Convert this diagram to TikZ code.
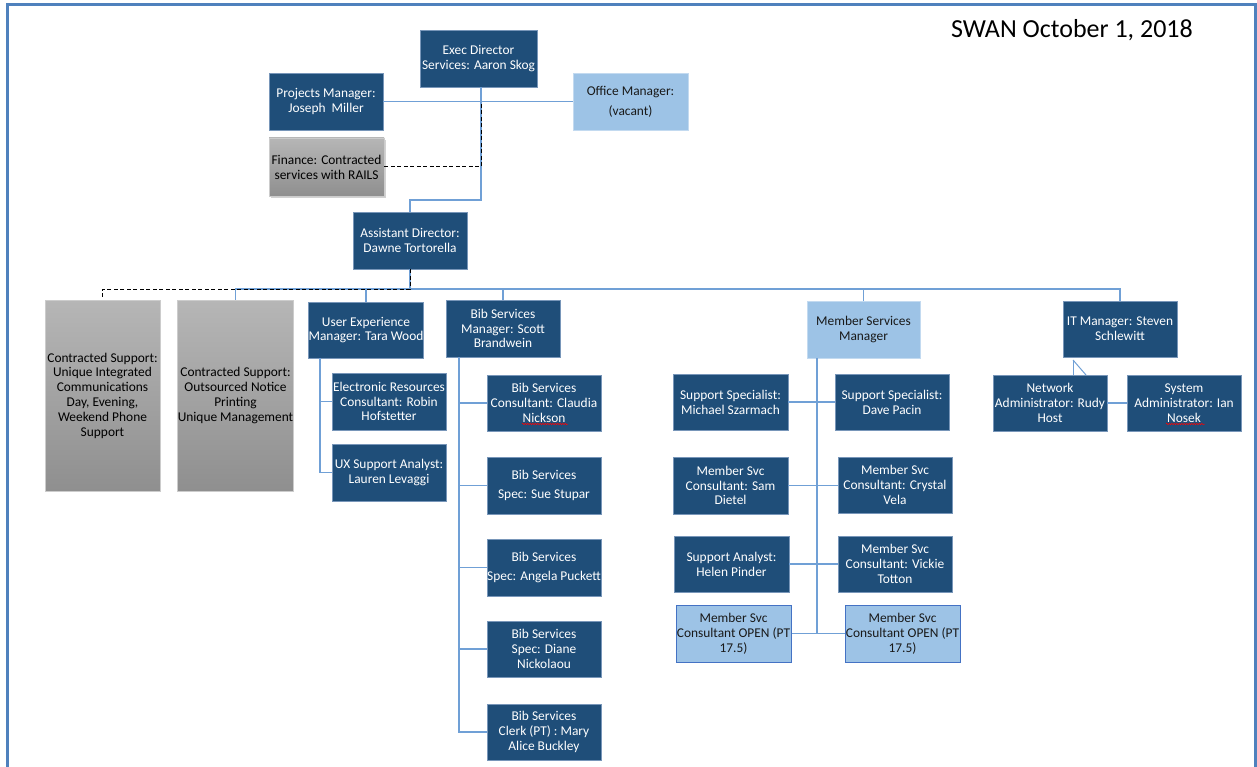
\documentclass[tikz,border=0pt]{standalone}
\usepackage{fontspec}
\setmainfont{Carlito}
\usetikzlibrary{shadows,decorations.pathmorphing}
\definecolor{dblue}{RGB}{31,78,121}
\definecolor{lblue}{RGB}{157,195,230}
\definecolor{connc}{RGB}{112,160,214}
\definecolor{framec}{RGB}{79,129,189}
\definecolor{gtop}{RGB}{182,182,182}
\definecolor{gbot}{RGB}{143,143,143}
\definecolor{dedge}{RGB}{120,150,185}
\definecolor{ledge}{RGB}{195,218,240}
\definecolor{oedge}{RGB}{68,114,196}
\begin{document}
\begin{tikzpicture}[x=1pt,y=-1pt,
  box/.style={rectangle, minimum width=114, minimum height=57, align=center, inner sep=0pt, font=\fontsize{13.4}{14.8}\selectfont},
  dbox/.style={box, fill=dblue, draw=dedge, line width=0.6, text=white},
  lbox/.style={box, fill=lblue, draw=ledge, line width=0.6, text=black!90},
  obox/.style={box, fill=lblue, draw=oedge, line width=1, text=black!90},
  gbox/.style={box, top color=gtop, bottom color=gbot, draw=gray!40, line width=0.6, text=black},
  link/.style={draw=connc, line width=1.3},
  dlink/.style={draw=black, line width=1, dash pattern=on 4pt off 2.5pt},
  spellwave/.style={draw=red, line width=0.5, decorate, decoration={snake, amplitude=0.8pt, segment length=2.5pt}}]
\useasboundingbox (0,0) rectangle (1257,767);
\fill[white] (0,0) rectangle (1257,767);
\draw[framec, line width=3] (7,767) -- (7,5) -- (1255,5) -- (1255,767);

\node[font=\fontsize{26}{30}\selectfont] (title) at (1072,30) {SWAN October 1, 2018};

% top level
\node[dbox, minimum width=117] (exec) at (478.5,58.5) {Exec Director\\Services: Aaron Skog};
\node[dbox] (proj) at (326,101.5) {Projects Manager:\\Joseph\ \ Miller};
\node[lbox, minimum width=115] (office) at (630.5,101.5) {Office Manager:\\[5pt](vacant)};
\node[gbox, minimum width=115, minimum height=58, drop shadow={opacity=0.35, shadow xshift=1.5pt, shadow yshift=-2pt}] (fin) at (326.5,167) {Finance: Contracted\\services with RAILS};
\node[dbox] (asst) at (410,240.5) {Assistant Director:\\Dawne Tortorella};

% second level
\node[gbox, minimum width=115, minimum height=191] (cs1) at (102.5,395.5) {Contracted Support:\\Unique Integrated\\Communications\\Day, Evening,\\Weekend Phone\\Support};
\node[gbox, minimum width=115, minimum height=191] (cs2) at (235.5,395.5) {Contracted Support:\\Outsourced Notice\\Printing\\Unique Management};
\node[dbox, minimum height=56] (uxm) at (366,330) {User Experience\\Manager: Tara Wood};
\node[dbox] (bibm) at (503,328.5) {Bib Services\\Manager: Scott\\Brandwein};
\node[lbox, minimum width=113] (msm) at (863.5,329.5) {Member Services\\Manager};
\node[dbox, minimum height=56] (itm) at (1120,329) {IT Manager: Steven\\Schlewitt};

% UX team
\node[dbox] (er) at (389,401.5) {Electronic Resources\\Consultant: Robin\\Hofstetter};
\node[dbox] (uxa) at (389,472.5) {UX Support Analyst:\\Lauren Levaggi};

% Bib team
\node[dbox, minimum height=56] (bib1) at (544,403) {Bib Services\\Consultant: Claudia\\Nickson};
\node[dbox] (bib2) at (544,485.5) {Bib Services\\[5pt]Spec: Sue Stupar};
\node[dbox] (bib3) at (544,567.5) {Bib Services\\[5pt]Spec: Angela Puckett};
\node[dbox, minimum height=56] (bib4) at (544,649) {Bib Services\\Spec: Diane\\Nickolaou};
\node[dbox, minimum height=56] (bib5) at (544,732) {Bib Services\\Clerk (PT) : Mary\\Alice Buckley};

% Member services team
\node[dbox, minimum width=115, minimum height=56] (l1) at (730.5,402) {Support Specialist:\\Michael Szarmach};
\node[dbox, minimum height=56] (r1) at (892,402) {Support Specialist:\\Dave Pacin};
\node[dbox, minimum width=115] (l2) at (730.5,485.5) {Member Svc\\Consultant: Sam\\Dietel};
\node[dbox, minimum height=56] (r2) at (895,485) {Member Svc\\Consultant: Crystal\\Vela};
\node[dbox, minimum width=115, minimum height=56] (l3) at (731.5,564) {Support Analyst:\\Helen Pinder};
\node[dbox, minimum height=56] (r3) at (895,564) {Member Svc\\Consultant: Vickie\\Totton};
\node[obox, minimum width=115] (l4) at (733.5,633.5) {Member Svc\\Consultant OPEN (PT\\17.5)};
\node[obox, minimum width=115] (r4) at (902.5,633.5) {Member Svc\\Consultant OPEN (PT\\17.5)};

% IT team
\node[dbox, minimum height=56] (net) at (1050,403) {Network\\Administrator: Rudy\\Host};
\node[dbox, minimum height=56] (sys) at (1184,403) {System\\Administrator: Ian\\Nosek};

% spelling marks
\draw[spellwave] ([xshift=-22pt,yshift=-21pt]bib1.center) -- ([xshift=24pt,yshift=-21pt]bib1.center);
\draw[spellwave] ([xshift=-18pt,yshift=-21pt]sys.center) -- ([xshift=21pt,yshift=-21pt]sys.center);

% junction coordinates
\coordinate (ej) at (481,200);
\coordinate (fj) at (481,167);
\coordinate (bus) at (410,289);
\coordinate (uxv) at (320,0);
\coordinate (bv) at (459,0);
\coordinate (mv) at (817,0);
\coordinate (itj) at (1073,360);
\coordinate (itd) at (1086,375);

% top connectors
\draw[link] (proj.east) -- (office.west);
\draw[link] (exec.south -| ej) -- (ej) -| (asst.north);
\draw[dlink] (fin.east) -- (fj) -- (fj |- proj.east);

% bus
\draw[link] (asst.south) -- (bus);
\draw[link] (cs2.north) |- (bus) -| (itm.north);
\draw[link] (uxm.north) -- (uxm.north |- bus);
\draw[link] (bibm.north) -- (bibm.north |- bus);
\draw[link] (msm.north) -- (msm.north |- bus);
\draw[dlink] (asst.south) -- (bus) -| (cs1.north);

% UX branch
\draw[link] (uxm.south -| uxv) |- (uxa.west);
\draw[link] (er.west) -- (er.west -| uxv);

% Bib branch
\draw[link] (bibm.south -| bv) |- (bib5.west);
\draw[link] (bib1.west) -- (bib1.west -| bv);
\draw[link] (bib2.west) -- (bib2.west -| bv);
\draw[link] (bib3.west) -- (bib3.west -| bv);
\draw[link] (bib4.west) -- (bib4.west -| bv);

% Member branch
\draw[link] (msm.south -| mv) -- (mv |- l4.east);
\draw[link] (l1.east) -- (l1.east -| r1.west);
\draw[link] (l2.east) -- (l2.east -| r2.west);
\draw[link] (l3.east) -- (l3.east -| r3.west);
\draw[link] (l4.east) -- (l4.east -| r4.west);

% IT branch
\draw[link, line width=1] (itj) -- (itj |- net.north);
\draw[link, line width=1] (itj) -- (itd);
\draw[link] (net.east) -- (sys.west);
\end{tikzpicture}
\end{document}
